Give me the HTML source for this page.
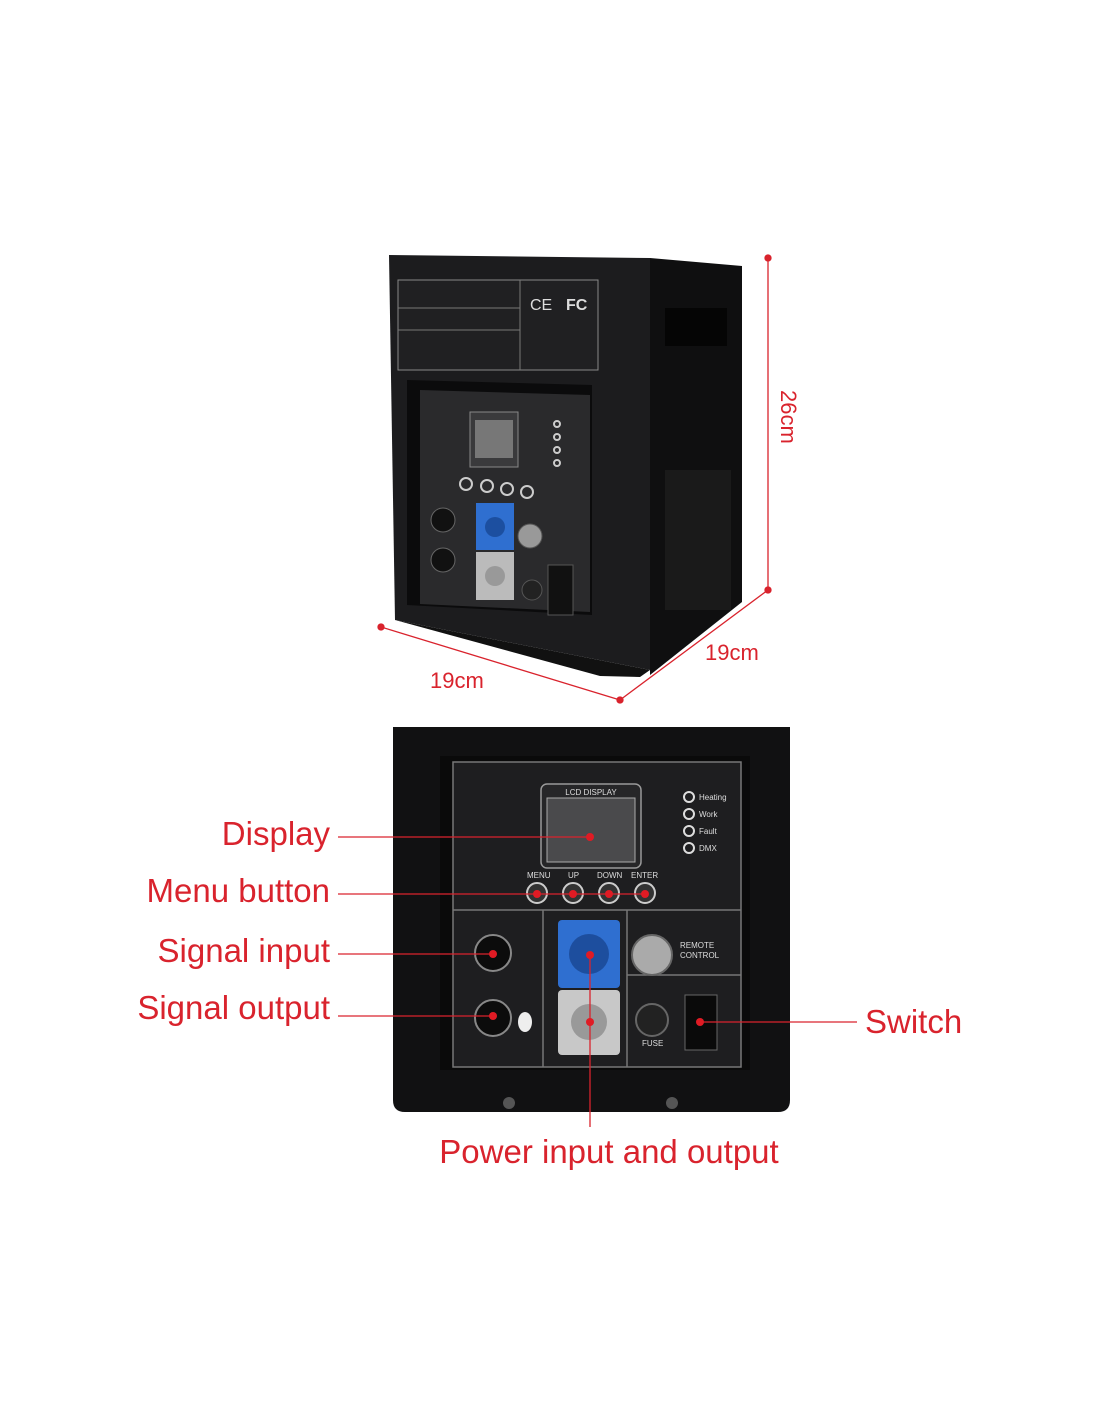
<!DOCTYPE html>
<html><head><style>
body{margin:0;background:#fff;width:1100px;height:1422px;overflow:hidden}
svg{display:block}
</style></head><body>
<svg width="1100" height="1422" viewBox="0 0 1100 1422" font-family="Liberation Sans, sans-serif">
<rect width="1100" height="1422" fill="#fff"/>
<!-- top device -->
<polygon points="389,255 650,258 650,670 395,620" fill="#1c1c1e"/>
<polygon points="650,258 742,266 742,602 650,675" fill="#0f0f10"/>
<polygon points="395,620 650,670 640,677 600,676" fill="#111"/>
<rect x="398" y="280" width="200" height="90" fill="#202022" stroke="#888" stroke-width="1"/>
<line x1="398" y1="308" x2="520" y2="308" stroke="#777"/>
<line x1="398" y1="330" x2="520" y2="330" stroke="#777"/>
<line x1="520" y1="280" x2="520" y2="370" stroke="#777"/>
<text x="530" y="310" fill="#ddd" font-size="16">CE</text>
<text x="566" y="310" fill="#ddd" font-size="16" font-weight="bold">FC</text>
<rect x="665" y="308" width="62" height="38" fill="#050505"/>
<polygon points="407,380 592,385 592,615 407,605" fill="#0b0b0c"/>
<polygon points="420,390 590,395 590,612 420,604" fill="#2a2a2c"/>
<rect x="470" y="412" width="48" height="55" fill="#3a3a3c" stroke="#888"/>
<rect x="475" y="420" width="38" height="38" fill="#777"/>
<g fill="none" stroke="#ccc" stroke-width="2">
<circle cx="557" cy="424" r="3"/><circle cx="557" cy="437" r="3"/><circle cx="557" cy="450" r="3"/><circle cx="557" cy="463" r="3"/>
<circle cx="466" cy="484" r="6"/><circle cx="487" cy="486" r="6"/><circle cx="507" cy="489" r="6"/><circle cx="527" cy="492" r="6"/>
</g>
<circle cx="443" cy="520" r="12" fill="#111" stroke="#666"/>
<circle cx="443" cy="560" r="12" fill="#111" stroke="#666"/>
<rect x="476" y="503" width="38" height="47" fill="#2f6fd0"/>
<circle cx="495" cy="527" r="10" fill="#1c4fa0"/>
<rect x="476" y="552" width="38" height="48" fill="#bbb"/>
<circle cx="495" cy="576" r="10" fill="#999"/>
<circle cx="530" cy="536" r="12" fill="#999" stroke="#555"/>
<circle cx="532" cy="590" r="10" fill="#222" stroke="#555"/>
<rect x="548" y="565" width="25" height="50" fill="#111" stroke="#555"/>
<rect x="665" y="470" width="66" height="140" fill="#1a1a1a"/>
<!-- dimensions -->
<g stroke="#d9232d" stroke-width="1.3" fill="#d9232d">
<line x1="768" y1="258" x2="768" y2="590"/>
<line x1="381" y1="627" x2="620" y2="700"/>
<line x1="620" y1="700" x2="768" y2="590"/>
<circle cx="768" cy="258" r="3"/><circle cx="768" cy="590" r="3"/><circle cx="381" cy="627" r="3"/><circle cx="620" cy="700" r="3"/>
</g>
<text x="430" y="688" fill="#d9232d" font-size="22">19cm</text>
<text x="705" y="660" fill="#d9232d" font-size="22">19cm</text>
<text x="0" y="0" fill="#d9232d" font-size="22" transform="translate(781,390) rotate(90)">26cm</text>
<!-- bottom device -->
<path d="M393,727 H790 V1100 Q790,1112 778,1112 H405 Q393,1112 393,1100 Z" fill="#111112"/>
<rect x="440" y="756" width="310" height="314" fill="#0a0a0a"/>
<rect x="453" y="762" width="288" height="305" fill="#1e1e20" stroke="#777" stroke-width="1.5"/>
<line x1="453" y1="910" x2="741" y2="910" stroke="#777" stroke-width="1.5"/>
<line x1="543" y1="910" x2="543" y2="1067" stroke="#777" stroke-width="1.5"/>
<line x1="627" y1="910" x2="627" y2="1067" stroke="#777" stroke-width="1.5"/>
<line x1="627" y1="975" x2="741" y2="975" stroke="#777" stroke-width="1.5"/>
<rect x="541" y="784" width="100" height="84" rx="6" fill="#262628" stroke="#999" stroke-width="1.5"/>
<rect x="547" y="798" width="88" height="64" fill="#4a4a4c" stroke="#aaa"/>
<text x="591" y="795" fill="#ddd" font-size="8" text-anchor="middle">LCD DISPLAY</text>
<g fill="none" stroke="#ddd" stroke-width="2">
<circle cx="689" cy="797" r="5"/><circle cx="689" cy="814" r="5"/><circle cx="689" cy="831" r="5"/><circle cx="689" cy="848" r="5"/>
</g>
<g fill="#ddd" font-size="8"><text x="699" y="800">Heating</text><text x="699" y="817">Work</text><text x="699" y="834">Fault</text><text x="699" y="851">DMX</text>
<text x="527" y="878">MENU</text><text x="568" y="878">UP</text><text x="597" y="878">DOWN</text><text x="631" y="878">ENTER</text>
<text x="680" y="948">REMOTE</text><text x="680" y="958">CONTROL</text><text x="642" y="1046">FUSE</text></g>
<g fill="#333" stroke="#ccc" stroke-width="2">
<circle cx="537" cy="893" r="10"/><circle cx="573" cy="893" r="10"/><circle cx="609" cy="893" r="10"/><circle cx="645" cy="893" r="10"/>
</g>
<circle cx="493" cy="953" r="18" fill="#0c0c0c" stroke="#888" stroke-width="2"/>
<circle cx="493" cy="1018" r="18" fill="#0c0c0c" stroke="#888" stroke-width="2"/>
<ellipse cx="525" cy="1022" rx="7" ry="10" fill="#eee"/>
<rect x="558" y="920" width="62" height="68" rx="4" fill="#2f6fd0"/>
<circle cx="589" cy="954" r="20" fill="#1d4e9e"/>
<rect x="558" y="990" width="62" height="65" rx="4" fill="#c8c8c8"/>
<circle cx="589" cy="1022" r="18" fill="#999"/>
<circle cx="652" cy="955" r="20" fill="#aaa" stroke="#666" stroke-width="2"/>
<circle cx="652" cy="1020" r="16" fill="#222" stroke="#666" stroke-width="2"/>
<rect x="685" y="995" width="32" height="55" fill="#0a0a0a" stroke="#666"/>
<circle cx="509" cy="1103" r="6" fill="#555"/><circle cx="672" cy="1103" r="6" fill="#555"/>
<!-- callouts -->
<g stroke="#d9232d" stroke-width="1.3">
<line x1="338" y1="837" x2="590" y2="837"/>
<line x1="338" y1="894" x2="645" y2="894"/>
<line x1="338" y1="954" x2="493" y2="954"/>
<line x1="338" y1="1016" x2="493" y2="1016"/>
<line x1="700" y1="1022" x2="857" y2="1022"/>
<line x1="590" y1="955" x2="590" y2="1127"/>
</g>
<g fill="#e01b24">
<circle cx="590" cy="837" r="4"/><circle cx="537" cy="894" r="4"/><circle cx="573" cy="894" r="4"/><circle cx="609" cy="894" r="4"/><circle cx="645" cy="894" r="4"/>
<circle cx="493" cy="954" r="4"/><circle cx="493" cy="1016" r="4"/><circle cx="700" cy="1022" r="4"/><circle cx="590" cy="955" r="4"/><circle cx="590" cy="1022" r="4"/>
</g>
<g fill="#d9232d" font-size="33">
<text x="330" y="845" text-anchor="end">Display</text>
<text x="330" y="902" text-anchor="end">Menu button</text>
<text x="330" y="962" text-anchor="end">Signal input</text>
<text x="330" y="1019" text-anchor="end">Signal output</text>
<text x="865" y="1033">Switch</text>
<text x="609" y="1163" text-anchor="middle">Power input and output</text>
</g>
</svg>
</body></html>
